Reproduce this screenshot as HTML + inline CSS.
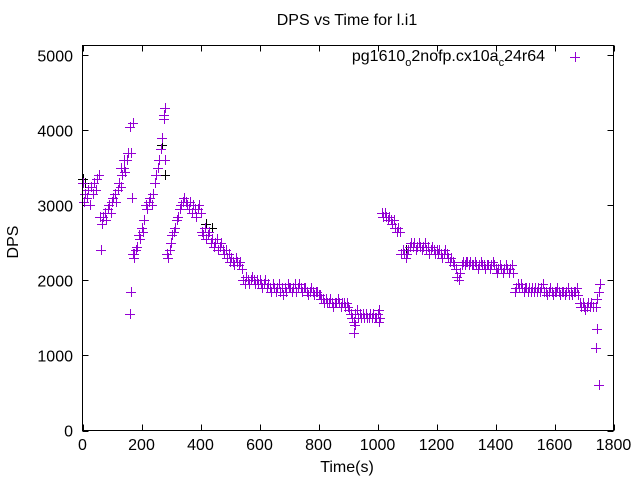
<!DOCTYPE html>
<html><head><meta charset="utf-8"><style>
body{margin:0;background:#fff;}
svg text{font-family:"Liberation Sans",sans-serif;font-size:16px;fill:#000;}
</style></head><body>
<svg id="chart" width="640" height="480">
<rect x="0" y="0" width="640" height="480" fill="#fff"/>
<text x="347" y="25" text-anchor="middle">DPS vs Time for l.i1</text>
<text x="347" y="472" text-anchor="middle">Time(s)</text>
<text transform="translate(18,242) rotate(-90)" text-anchor="middle">DPS</text>
<g id="axes"></g>
<g id="marks"></g>
<g>
<text x="545" y="61" text-anchor="end">pg1610<tspan dy="5" font-size="11">o</tspan><tspan dy="-5">2nofp.cx10a</tspan><tspan dy="5" font-size="11">c</tspan><tspan dy="-5">24r64</tspan></text>
<g fill="#9400d3"><rect x="570" y="57" width="10" height="1"/><rect x="575" y="52" width="1" height="10"/></g>
</g>
<rect x="82.5" y="45.5" width="531" height="385" fill="none" stroke="#000" stroke-width="1"/>
</svg>
<script>
const xTicks=[0,200,400,600,800,1000,1200,1400,1600,1800];
const yTicks=[0,1000,2000,3000,4000,5000];
const timeStep=5;
const dps=[
3300,3050,3150,3100,3200,3000,3250,3150,3300,3200,3350,3400,
2850,2750,
2850,2900,2800,2950,3000,2900,3050,3100,3150,3050,3200,3300,3250,3400,3500,3450,3600,3700,4050,3700,
2350,2300,
2400,2450,2600,2550,2700,2650,2800,3000,2950,3050,3100,3000,3150,3300,3400,3500,3600,3750,3900,
4200,3600,2350,2300,
2400,2500,2600,2650,2700,2800,2850,2950,3000,3050,3100,3050,
3000,2950,3050,2900,3000,2950,2850,2950,3000,2900,
2650,2600,2700,2550,2600,2650,2500,2550,2450,2500,2550,2400,2450,2500,2400,2350,2400,2300,2350,2250,2300,2250,2200,2300,2250,2200,2250,2150,
2000,1950,2050,2000,1950,2000,2050,2000,1950,2000,1950,2000,
1950,1900,1950,2000,1900,1950,1900,1850,1950,1900,1850,1900,1950,1850,1900,1800,1900,1850,1950,1900,1900,1850,1900,1950,1850,1900,1950,1900,1850,1900,1900,1850,1800,1850,1900,1850,1800,1850,1850,1800,
1800,1750,1750,1700,1750,1700,1700,1750,1700,1650,1700,1700,1750,1700,1650,1700,1700,1650,1700,1650,
1600,1550,1500,1450,1550,1600,1500,1550,1500,1550,1500,1550,1500,1500,1550,1500,1550,1500,1500,1550,1450,1500,
2900,2850,2900,2850,2800,2850,2800,2750,2800,2700,2650,2700,2650,2350,
2400,2350,2300,2350,2400,2450,2500,2450,2500,2400,2450,2500,2450,2400,2450,2500,2400,2450,2350,2400,2450,2400,2350,2400,2350,2400,2350,2300,2350,2400,2350,2300,2250,2300,
2250,2200,2150,2050,2000,2100,2200,2250,2200,2250,
2250,2200,2250,2200,2200,2250,2200,2150,2200,2250,2200,2200,2150,2200,2200,2150,2200,2250,2200,2150,2100,2150,2200,2150,2100,2150,2200,2150,2100,2150,2200,2100,
1850,1900,1950,1900,1950,1900,1850,1900,1900,1850,1900,1850,1900,1850,1900,1850,1900,1850,1900,1950,1850,1850,1800,1850,1900,1850,1800,1850,1850,1900,1850,1800,1850,1850,1800,1850,1900,1800,1850,1800,1850,1850,1900,1800,
1700,1650,1700,1650,1600,1650,1700,1650,1700,1650
];
const outlierTimes=[160,165,168,170,175,62,278,275,920,925,1005,1740,1745,1750,1755,1750,1745,1740,130,140];
const outlierDps=[1550,1850,3100,4100,2350,2400,4300,4150,1300,1400,1600,1100,1350,600,1950,1850,1750,1650,3500,3600];
const blackTimes=[2,8,270,280,420,440,1095];
const blackDps=[3350,3300,3800,3400,2750,2700,2400];
const X=v=>82.5+v*531/1800;
const Y=v=>430.5-v*385/5130;
const NS="http://www.w3.org/2000/svg";
const axes=document.getElementById('axes'),marks=document.getElementById('marks');
xTicks.forEach(t=>{
 const p=document.createElementNS(NS,'path');
 const x=Math.round(X(t))+0.5;
 p.setAttribute('d',`M${x},430.5v-6M${x},45.5v6`);p.setAttribute('stroke','#000');
 
 
 axes.appendChild(p);
 const l=document.createElementNS(NS,'text');
 l.setAttribute('x',X(t));l.setAttribute('y',450);l.setAttribute('text-anchor','middle');l.textContent=t;
 
 
 axes.appendChild(l);
});
yTicks.forEach(t=>{
 const p=document.createElementNS(NS,'path');
 const y=Math.round(Y(t))+0.5;
 p.setAttribute('d',`M82.5,${y}h6M613.5,${y}h-6`);p.setAttribute('stroke','#000');
 
 
 axes.appendChild(p);
 const l=document.createElementNS(NS,'text');
 l.setAttribute('x',73);l.setAttribute('y',Y(t)+6);l.setAttribute('text-anchor','end');l.textContent=t;
 
 
 axes.appendChild(l);
});
function plus(t,v,c){
 const g=document.createElementNS(NS,'g');
 const x=Math.round(X(t)),y=Math.round(Y(v));
 g.setAttribute('fill',c);
 
 
 const h=document.createElementNS(NS,'rect');
 h.setAttribute('x',x-5);h.setAttribute('y',y);h.setAttribute('width',10);h.setAttribute('height',1);
 const w=document.createElementNS(NS,'rect');
 w.setAttribute('x',x);w.setAttribute('y',y-5);w.setAttribute('width',1);w.setAttribute('height',10);
 g.appendChild(h);g.appendChild(w);
 marks.appendChild(g);
}
blackTimes.forEach((t,i)=>plus(t,blackDps[i],'#000'));
dps.forEach((v,i)=>plus(i*timeStep,v,'#9400d3'));
outlierTimes.forEach((t,i)=>plus(t,outlierDps[i],'#9400d3'));
</script>
</body></html>
